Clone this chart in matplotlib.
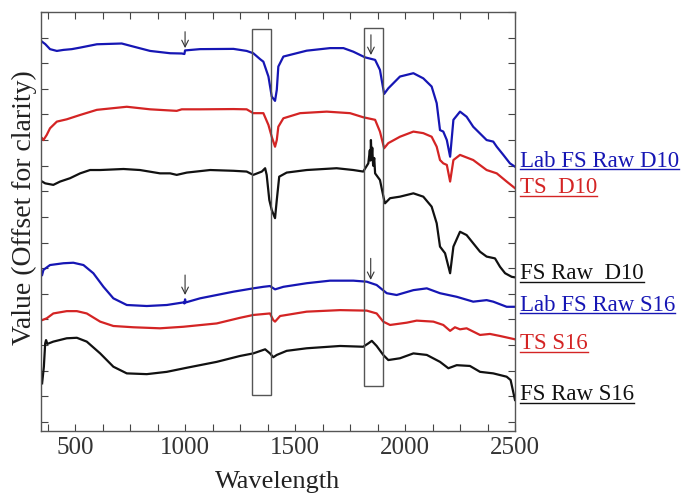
import matplotlib
matplotlib.use('Agg')
import matplotlib.pyplot as plt
from matplotlib.lines import Line2D
from matplotlib.patches import Rectangle
from matplotlib.ticker import MultipleLocator
import numpy as np

plt.rcParams['font.family'] = 'serif'
plt.rcParams['font.serif'] = ['Liberation Serif', 'DejaVu Serif']

# spectra (y = offset units, ticks every 1)
lab_d10_x = [350, 356, 364, 386, 417, 447, 485, 523, 599, 712, 765, 841, 932, 985, 997, 1000,
             1068, 1220, 1280, 1310, 1341, 1356, 1379, 1394, 1409, 1417, 1424, 1447, 1553, 1659,
             1720, 1765, 1818, 1864, 1886, 1905, 1924, 1977, 2038, 2083, 2121, 2144, 2159, 2174,
             2190, 2205, 2220, 2250, 2280, 2310, 2371, 2401, 2417, 2447, 2477, 2500]
lab_d10_y = [14.84, 14.80, 14.75, 14.55, 14.48, 14.52, 14.55, 14.61, 14.74, 14.77, 14.65, 14.48,
             14.39, 14.38, 14.36, 14.50, 14.55, 14.56, 14.48, 14.39, 14.16, 14.06, 13.48, 12.70,
             12.53, 12.96, 13.87, 14.26, 14.49, 14.59, 14.59, 14.45, 14.23, 14.13, 13.74, 12.80,
             13.02, 13.48, 13.61, 13.41, 13.09, 12.44, 11.39, 11.33, 11.00, 10.35, 11.79, 12.11,
             11.91, 11.52, 11.00, 10.94, 10.74, 10.42, 10.09, 9.96]

ts_d10_x = [350, 356, 371, 386, 417, 462, 523, 599, 735, 841, 962, 985, 1068, 1220, 1280, 1310,
            1356, 1379, 1394, 1409, 1417, 1424, 1447, 1523, 1644, 1750, 1810, 1864, 1886, 1905,
            1924, 1977, 2038, 2083, 2121, 2144, 2159, 2174, 2190, 2205, 2220, 2250, 2310, 2371,
            2417, 2462, 2500]
ts_d10_y = [11.07, 11.00, 11.20, 11.46, 11.72, 11.81, 11.98, 12.18, 12.30, 12.20, 12.14, 12.20,
            12.20, 12.21, 12.20, 12.05, 12.05, 11.59, 11.13, 10.74, 11.00, 11.52, 11.85, 12.05,
            12.11, 12.05, 11.89, 11.79, 11.33, 10.68, 10.88, 11.13, 11.33, 11.27, 11.13, 10.74,
            10.22, 10.09, 10.03, 9.38, 10.22, 10.42, 10.22, 9.83, 9.70, 9.38, 9.12]

fs_d10_x = [350, 364, 401, 432, 477, 523, 568, 614, 720, 795, 886, 932, 962, 1008, 1114, 1220,
            1280, 1310, 1349, 1364, 1371, 1383, 1394, 1409, 1417, 1428, 1462, 1553, 1689, 1765,
            1810, 1833, 1840, 1843, 1845, 1848, 1851, 1855, 1860, 1864, 1886, 1905, 1909, 1932,
            1977, 2038, 2083, 2121, 2144, 2159, 2182, 2205, 2220, 2250, 2280, 2310, 2341, 2371,
            2409, 2432, 2455, 2485, 2500]
fs_d10_y = [9.38, 9.31, 9.25, 9.38, 9.51, 9.70, 9.83, 9.83, 9.87, 9.83, 9.70, 9.70, 9.64, 9.73,
            9.83, 9.80, 9.77, 9.64, 9.77, 9.90, 9.64, 8.66, 8.27, 7.95, 8.66, 9.57, 9.73, 9.83,
            9.90, 9.83, 9.77, 10.09, 10.60, 10.20, 11.00, 10.30, 10.70, 10.00, 10.30, 9.70, 9.44,
            8.66, 8.53, 8.73, 8.79, 8.92, 8.79, 8.40, 7.75, 6.84, 6.58, 5.80, 6.84, 7.42, 7.29,
            6.97, 6.64, 6.45, 6.38, 6.05, 5.80, 5.66, 5.64]

lab_s16_x = [350, 356, 386, 447, 492, 538, 583, 629, 674, 735, 826, 917, 992, 997, 1000, 1003,
             1068, 1220, 1310, 1356, 1386, 1409, 1447, 1553, 1659, 1765, 1826, 1871, 1917, 1962,
             2038, 2099, 2159, 2235, 2310, 2371, 2401, 2462, 2500]
lab_s16_y = [5.73, 5.93, 6.12, 6.19, 6.21, 6.12, 5.80, 5.27, 4.82, 4.56, 4.52, 4.56, 4.66, 4.62,
             4.78, 4.66, 4.82, 5.08, 5.21, 5.27, 5.30, 5.17, 5.27, 5.41, 5.51, 5.51, 5.47, 5.34,
             5.02, 4.95, 5.14, 5.21, 5.02, 4.88, 4.69, 4.75, 4.69, 4.49, 4.49]

ts_s16_x = [350, 371, 401, 462, 508, 553, 614, 674, 765, 886, 992, 1144, 1250, 1310, 1386, 1401,
            1409, 1432, 1553, 1705, 1826, 1871, 1901, 1932, 2008, 2053, 2129, 2174, 2205, 2227,
            2250, 2280, 2341, 2386, 2432, 2500]
ts_s16_y = [3.97, 4.04, 4.23, 4.32, 4.32, 4.23, 3.91, 3.74, 3.69, 3.65, 3.71, 3.84, 4.06, 4.17,
            4.23, 3.97, 3.91, 4.13, 4.30, 4.36, 4.34, 4.23, 3.91, 3.78, 3.87, 3.95, 3.91, 3.78,
            3.55, 3.69, 3.61, 3.65, 3.39, 3.43, 3.35, 3.22]

fs_s16_x = [350, 358, 364, 368, 374, 401, 462, 508, 553, 614, 674, 735, 826, 917, 1008, 1144,
            1250, 1310, 1364, 1386, 1401, 1417, 1462, 1553, 1705, 1810, 1833, 1849, 1871, 1901,
            1924, 1977, 2038, 2099, 2159, 2197, 2235, 2295, 2341, 2401, 2462, 2480, 2500]
fs_s16_y = [1.50, 2.15, 3.06, 3.19, 3.04, 3.13, 3.26, 3.28, 3.13, 2.67, 2.15, 1.89, 1.86, 1.95,
            2.11, 2.34, 2.57, 2.67, 2.83, 2.67, 2.52, 2.61, 2.77, 2.87, 2.96, 2.93, 3.06, 3.16,
            2.96, 2.61, 2.41, 2.48, 2.67, 2.61, 2.34, 2.09, 2.21, 2.18, 1.95, 1.89, 1.76, 1.63, 0.85]

names = ['Lab FS Raw D10', 'TS  D10', 'FS Raw  D10', 'Lab FS Raw S16', 'TS S16', 'FS Raw S16']
label_base = [9.96, 8.93, 5.57, 4.34, 2.84, 0.85]   # baselines of the right-hand labels
blue, red, black = '#1616b4', '#d42424', '#111111'
colors = [blue, red, black, blue, red, black]

# boxes: (x0, x1, y0, y1)
boxes = [(1303, 1391, 1.04, 15.33), (1815, 1901, 1.41, 15.36)]
# arrows: (x, y_tail, y_head)
arrows = [(1000, 15.23, 14.59), (1845, 15.11, 14.32), (1000, 5.73, 4.95), (1844, 6.38, 5.54)]


def main():
    fig = plt.figure(figsize=(6.82, 4.93), dpi=100)
    ax = fig.add_axes([41 / 682, 62 / 493, 474 / 682, 419 / 493])
    lw = 1.6

    series = [(lab_d10_x, lab_d10_y), (ts_d10_x, ts_d10_y), (fs_d10_x, fs_d10_y),
              (lab_s16_x, lab_s16_y), (ts_s16_x, ts_s16_y), (fs_s16_x, fs_s16_y)]
    for (xs, ys), c in zip(series, colors):
        ax.plot(xs, ys, color=c, lw=lw)

    for x0, x1, y0, y1 in boxes:
        ax.add_patch(Rectangle((x0, y0), x1 - x0, y1 - y0, fill=False,
                               edgecolor='#555555', lw=1.0, zorder=3))
    for x, yt, yh in arrows:
        ax.annotate('', xy=(x, yh), xytext=(x, yt),
                    arrowprops=dict(arrowstyle='->', color='#333333', lw=0.8,
                                    mutation_scale=12, shrinkA=0, shrinkB=0))

    ax.set_xlim(345, 2500)
    ax.set_ylim(-0.36, 16.0)
    ax.xaxis.set_major_locator(MultipleLocator(500))
    ax.xaxis.set_minor_locator(MultipleLocator(125))
    ax.yaxis.set_major_locator(MultipleLocator(1))
    ax.set_yticklabels([])
    ax.tick_params(which='both', direction='in', top=True, right=True, length=5,
                   color='#444444', width=0.8)
    ax.tick_params(axis='x', labelsize=18, labelcolor='#333333', pad=4)
    for s in ax.spines.values():
        s.set_color('#555555')
        s.set_linewidth(1.0)

    ax.set_xlabel('Wavelength', fontsize=19, color='#222222', labelpad=9)
    ax.set_ylabel('Value (Offset for clarity)', fontsize=20, color='#222222')
    ax.yaxis.set_label_coords(-0.008, 0.532)

    texts = []
    for name, y, c in zip(names, label_base, colors):
        t = ax.text(1.011, y, name, color=c, fontsize=16.5, va='baseline', ha='left',
                    transform=ax.get_yaxis_transform(), clip_on=False)
        texts.append(t)

    fig.canvas.draw()
    r = fig.canvas.get_renderer()
    W, H = fig.bbox.width, fig.bbox.height
    for t, y in zip(texts, label_base):
        bb = t.get_window_extent(r)
        yl = ax.transData.transform((0, y))[1] - 2.5
        fig.add_artist(Line2D([bb.x0 / W, bb.x1 / W], [yl / H, yl / H],
                              transform=fig.transFigure, color=t.get_color(), lw=1.0))

    fig.savefig('out.png', dpi=100)


if __name__ == '__main__':
    main()
